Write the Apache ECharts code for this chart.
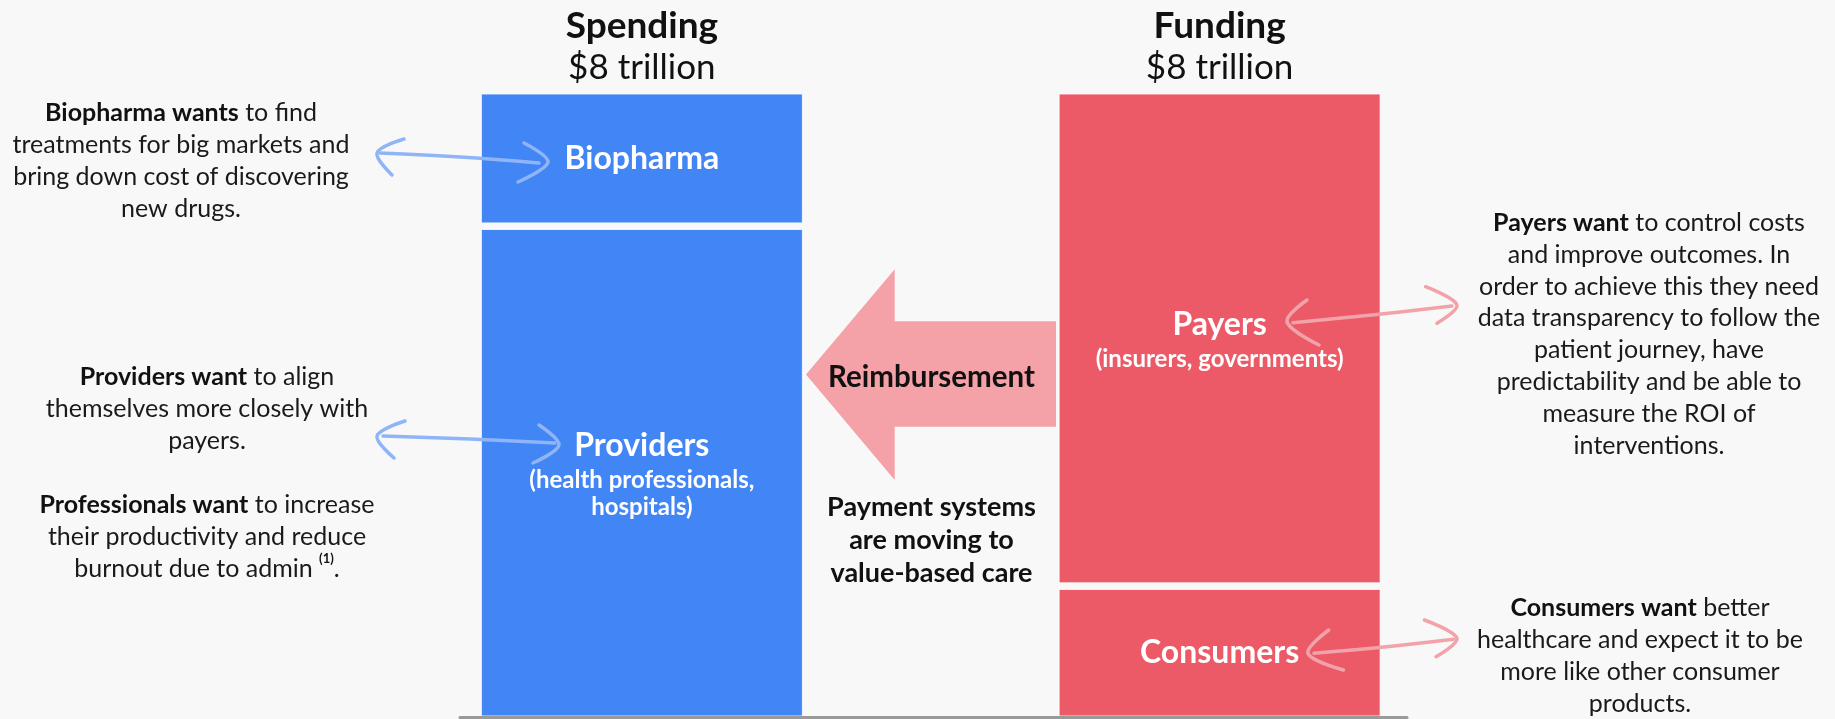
<!DOCTYPE html>
<html><head><meta charset="utf-8">
<script src="https://cdn.jsdelivr.net/npm/echarts@6/dist/echarts.min.js"></script>
<style>html,body{margin:0;padding:0;background:#f8f8f8;}#c{width:1835px;height:719px;}</style>
</head><body><div id="c"></div>
<script>
// ---- data ----
const categories = ['Spending', 'Funding'];
const totals = ['$8 trillion', '$8 trillion'];
const lowerNames = ['Providers', 'Consumers'];
const lowerValues = [6.3, 1.67];
const lowerSubs = [['(health professionals,', 'hospitals)'], []];
const upperNames = ['Biopharma', 'Payers'];
const upperValues = [1.7, 6.33];
const upperSubs = [[], ['(insurers, governments)']];
const biopharmaNote = ['{b|Biopharma wants} to find', 'treatments for big markets and', 'bring down cost of discovering', 'new drugs.'];
const providersNote = ['{b|Providers want} to align', 'themselves more closely with', 'payers.', '', '{b|Professionals want} to increase', 'their productivity and reduce', 'burnout due to admin {sup|(1)}.'];
const payersNote = ['{b|Payers want} to control costs', 'and improve outcomes. In', 'order to achieve this they need', 'data transparency to follow the', 'patient journey, have', 'predictability and be able to', 'measure the ROI of', 'interventions.'];
const consumersNote = ['{b|Consumers want} better', 'healthcare and expect it to be', 'more like other consumer', 'products.'];
const flowLabel = 'Reimbursement';
const flowNote = ['Payment systems', 'are moving to', 'value-based care'];

// ---- style ----
const FONT = 'Lato';
const BLUE = '#4285f4', RED = '#ec5a67', PINK = '#f4a1a8';
const barColors = [BLUE, RED];
const INK = '#111';
const YMAX = 8;
const BAR_W = 321;
const HALF_GAP = 3.3;

const chart = echarts.init(document.getElementById('c'), null, {renderer: 'canvas'});

const segRich = {
  t: {fontFamily: FONT, fontSize: 32, fontWeight: 'bold', fill: '#fff', lineHeight: 42},
  s: {fontFamily: FONT, fontSize: 24, fontWeight: 'bold', fill: '#fff', lineHeight: 27}
};

function segText(names, subs, i) {
  let s = '{t|' + names[i] + '}';
  subs[i].forEach(function (x) { s += '\n{s|' + x + '}'; });
  return s;
}

function mkSeries(name, names, subs, starts, values) {
  return {
    type: 'custom', name: name, xAxisIndex: 0, yAxisIndex: 0, silent: true,
    data: values.map(function (v, i) { return [i, starts[i], starts[i] + v]; }),
    encode: {x: 0, y: [1, 2]},
    renderItem: function (params, api) {
      const ci = api.value(0), s = api.value(1), e = api.value(2);
      const pb = api.coord([ci, s]);
      const pt = api.coord([ci, e]);
      const y0 = pt[1] + (e < YMAX - 1e-6 ? HALF_GAP : 0);
      const y1 = pb[1] - (s > 1e-6 ? HALF_GAP : 0);
      return {
        type: 'rect',
        shape: {x: pb[0] - BAR_W / 2, y: y0, width: BAR_W, height: y1 - y0},
        style: {fill: barColors[ci], stroke: 'rgba(255,255,255,0.8)', lineWidth: 1},
        textContent: {
          style: {
            text: segText(names, subs, ci), align: 'center', verticalAlign: 'middle',
            fontFamily: FONT, fontSize: 32, fontWeight: 'bold', fill: '#fff', rich: segRich
          }
        },
        textConfig: {position: 'inside', insideFill: '#fff', insideStroke: 'transparent'}
      };
    }
  };
}

function note(lines, cx, top, lh) {
  const base = {fontFamily: FONT, fontSize: 25, fontWeight: 'normal', fill: '#1a1a1a', lineHeight: lh};
  return {
    type: 'text', x: cx, y: top, z: 20,
    style: Object.assign({}, base, {
      text: lines.join('\n'), align: 'center', verticalAlign: 'top',
      rich: {
        b: Object.assign({}, base, {fontWeight: 'bold', fill: INK}),
        sup: {fontFamily: FONT, fontSize: 13, fontWeight: 'bold', fill: INK, lineHeight: 20, verticalAlign: 'top'}
      }
    })
  };
}

function handArrow(shaft, left, right, color) {
  const ls = {stroke: color, lineWidth: 3.5, fill: null, lineCap: 'round', lineJoin: 'round'};
  return [
    {type: 'polyline', z: 15, shape: {points: shaft, smooth: 0.4}, style: ls},
    {type: 'polyline', z: 15, shape: {points: left, smooth: 0.35}, style: ls},
    {type: 'polyline', z: 15, shape: {points: right, smooth: 0.35}, style: ls}
  ];
}

const graphics = [].concat(
  [{
    type: 'polygon', z: 5,
    shape: {points: [[806, 374.5], [894.7, 269.3], [894.7, 321.3], [1056, 321.3], [1056, 426.7], [894.7, 426.7], [894.7, 480]]},
    style: {fill: PINK}
  },
  {
    type: 'text', x: 931.5, y: 377, z: 20,
    style: {text: flowLabel, align: 'center', verticalAlign: 'middle', fontFamily: FONT, fontSize: 29.5, fontWeight: 'bold', fill: INK}
  },
  {
    type: 'text', x: 931.5, y: 490.5, z: 20,
    style: {text: flowNote.join('\n'), align: 'center', verticalAlign: 'top', fontFamily: FONT, fontSize: 27, fontWeight: 'bold', fill: INK, lineHeight: 33}
  },
  note(biopharmaNote, 181, 97, 32),
  note(providersNote, 207, 360.5, 32),
  note(payersNote, 1649, 207, 31.8),
  note(consumersNote, 1640, 591.5, 32)],
  handArrow([[380, 153], [460, 157], [539, 163]], [[404, 139], [377, 153], [392, 175]], [[524, 143], [548, 162], [518, 182]], '#8fb5f7'),
  handArrow([[383, 436], [470, 439], [555, 443]], [[405, 421], [377, 436], [394, 458]], [[539, 425], [559, 445], [533, 463]], '#8fb5f7'),
  handArrow([[1293, 322.7], [1372, 315], [1452, 306]], [[1307, 300], [1287, 321.7], [1319, 345]], [[1425.6, 286.7], [1457, 305], [1437, 323.3]], '#f2a3aa'),
  handArrow([[1314, 653.3], [1384, 647], [1453.7, 639.3]], [[1328.7, 630], [1308, 653.3], [1343.4, 670]], [[1424.4, 620], [1457, 638.3], [1436, 656.7]], '#f2a3aa')
);

const zeros = categories.map(function () { return 0; });

chart.setOption({
  backgroundColor: '#f8f8f8',
  animation: false,
  textStyle: {fontFamily: FONT},
  grid: [
    {left: 353, right: 326.5, top: 94, bottom: 3},
    {left: 460, right: 428, top: 690, bottom: 1.5}
  ],
  xAxis: [
    {
      type: 'category', gridIndex: 0, position: 'top', data: categories,
      axisLine: {show: false}, axisTick: {show: false}, splitLine: {show: false},
      axisLabel: {
        margin: 6, interval: 0,
        formatter: function (v, i) { return '{a|' + v + '}\n{b|' + totals[i] + '}'; },
        rich: {
          a: {fontFamily: FONT, fontSize: 37, fontWeight: 'bold', color: INK, lineHeight: 44},
          b: {fontFamily: FONT, fontSize: 35, fontWeight: 'normal', color: INK, lineHeight: 40}
        }
      }
    },
    {
      type: 'category', gridIndex: 1, data: [''], z: 10,
      axisLine: {show: true, lineStyle: {color: '#9a9a9a', width: 3}},
      axisTick: {show: false}, axisLabel: {show: false}, splitLine: {show: false}
    }
  ],
  yAxis: [
    {type: 'value', gridIndex: 0, min: 0, max: YMAX, show: false},
    {type: 'value', gridIndex: 1, show: false}
  ],
  series: [
    mkSeries('lower', lowerNames, lowerSubs, zeros, lowerValues),
    mkSeries('upper', upperNames, upperSubs, lowerValues, upperValues)
  ],
  graphic: graphics
});
</script></body></html>
